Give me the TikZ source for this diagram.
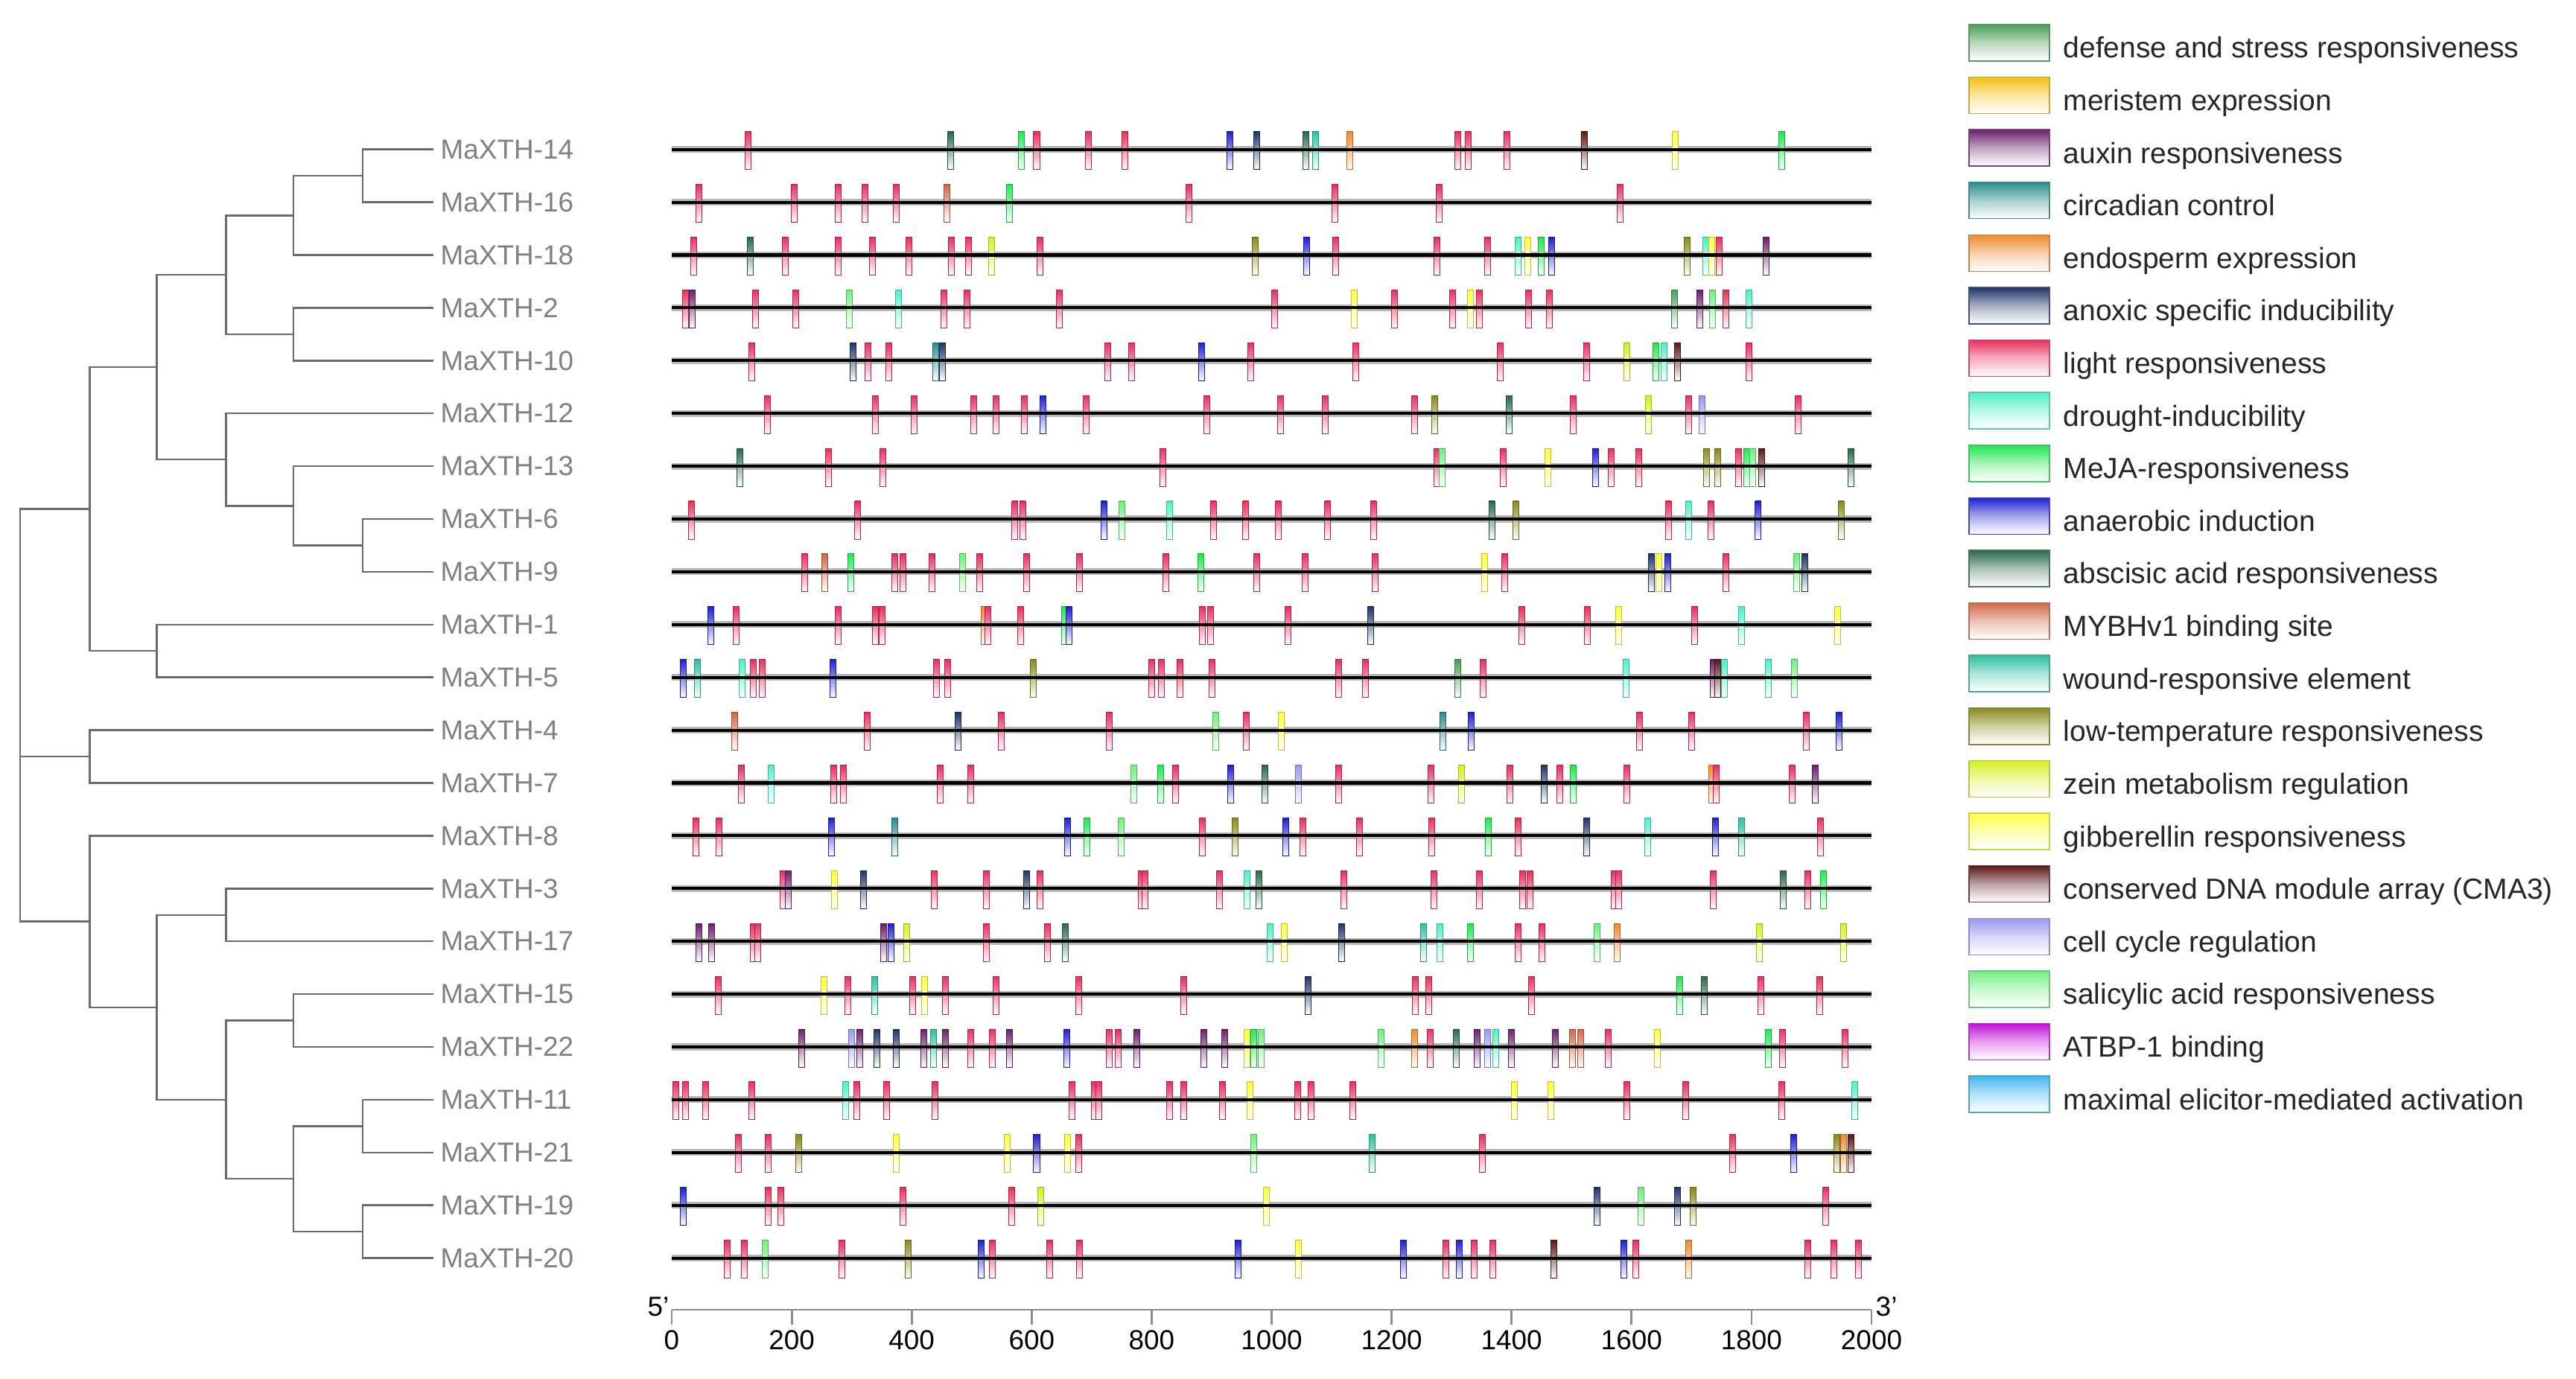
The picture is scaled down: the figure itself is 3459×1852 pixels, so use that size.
\documentclass[tikz,border=0pt]{standalone}
\usepackage{fontspec}
\setmainfont{Liberation Sans}
\definecolor{ccD}{HTML}{4E9E58}
\definecolor{ccM}{HTML}{F2C014}
\definecolor{ccX}{HTML}{6B1F6B}
\definecolor{ccC}{HTML}{2A8C8C}
\definecolor{ccE}{HTML}{F08A30}
\definecolor{ccN}{HTML}{203468}
\definecolor{ccL}{HTML}{E83060}
\definecolor{ccR}{HTML}{50F0C8}
\definecolor{ccJ}{HTML}{20E850}
\definecolor{ccB}{HTML}{2020D0}
\definecolor{ccA}{HTML}{2A6A4A}
\definecolor{ccY}{HTML}{D06848}
\definecolor{ccW}{HTML}{30C0A0}
\definecolor{ccT}{HTML}{8A8A1A}
\definecolor{ccZ}{HTML}{D8F020}
\definecolor{ccG}{HTML}{FFFF40}
\definecolor{ccK}{HTML}{5A1818}
\definecolor{ccV}{HTML}{9898F0}
\definecolor{ccS}{HTML}{70F080}
\definecolor{ccP}{HTML}{C010D8}
\definecolor{ccQ}{HTML}{40B8F0}
\tikzset{
 treeline/.style={draw=black!58, line width=0.7pt},
 leaflabel/.style={anchor=west, inner sep=0pt, text=black!50, font=\fontsize{10.5}{12}\selectfont},
 legtext/.style={anchor=base west, inner sep=0pt, text=black!85, font=\fontsize{11.1}{13}\selectfont},
 elbox/.style={top color=cc#1, bottom color=white, middle color=cc#1!50, draw=cc#1!75!black, line width=0.25pt},
 legbox/.style={top color=cc#1, bottom color=white, middle color=cc#1!40, draw=cc#1!60!gray, line width=0.4pt},
 haloline/.style={draw=black!28, line width=2.6pt},
 geneline/.style={draw=black, line width=1.15pt},
 axisline/.style={draw=black!45, line width=0.8pt},
 ticklabel/.style={anchor=north, inner sep=0pt, font=\fontsize{10.5}{12}\selectfont},
 primelabel/.style={inner sep=0pt, font=\fontsize{10.5}{12}\selectfont},
}
\newcommand\generow[3]{% #1 name, #2 y, #3 element list
  \coordinate (#1s) at (902,#2);
  \coordinate (#1e) at (2513,#2);
  \draw[haloline] (#1s) -- (#1e);
  \foreach \zx/\ety in {#3}{
    \pgfmathsetmacro\ex{895+\zx*1.0396}
    \path[elbox=\ety] (\ex-4,#2-24) rectangle (\ex+4,#2+27);
  }
  \draw[geneline] (#1s) -- (#1e);
}
\begin{document}
\begin{tikzpicture}[x=0.01cm, y=-0.01cm]
\useasboundingbox (0,0) rectangle (3459,1852);
\fill[white] (0,0) rectangle (3459,1852);

% ---------- tree ----------
\foreach \nm/\yy in {14/200.7,16/271.6,18/342.5,2/413.4,10/484.3,12/555.2,13/626.1,6/697.0,9/767.9,1/838.8,5/909.7,4/980.6,7/1051.5,8/1122.4,3/1193.3,17/1264.2,15/1335.1,22/1406.0,11/1476.9,21/1547.8,19/1618.7,20/1689.6}{
  \coordinate (l\nm) at (581.5,\yy);
  \node[leaflabel] (t\nm) at (591,\yy) {MaXTH-\nm};
}
\coordinate (r) at (27,960);
\coordinate (a) at (120.5,683.7);
\coordinate (a1) at (210.7,493.2);
\coordinate (a11) at (303.7,369.1);
\coordinate (a111) at (394,289.3);
\coordinate (a1111) at (487,236.15);
\coordinate (a112) at (394,448.85);
\coordinate (a12) at (303.7,617.2);
\coordinate (a122) at (394,679.3);
\coordinate (a1222) at (487,732.45);
\coordinate (a2) at (210.7,874.25);
\coordinate (m) at (120.5,1016.05);
\coordinate (b) at (120.5,1237.6);
\coordinate (b1) at (210.7,1352.8);
\coordinate (b11) at (303.7,1228.75);
\coordinate (b12) at (303.7,1476.9);
\coordinate (b121) at (394,1370.55);
\coordinate (b122) at (394,1583.25);
\coordinate (b1221) at (487,1512.35);
\coordinate (b1222) at (487,1654.15);
\draw[treeline] (r) |- (a) (r) |- (m) (r) |- (b);
\draw[treeline] (a) |- (a1) (a) |- (a2);
\draw[treeline] (a1) |- (a11) (a1) |- (a12);
\draw[treeline] (a11) |- (a111) (a11) |- (a112);
\draw[treeline] (a111) |- (a1111) (a111) |- (l18);
\draw[treeline] (a1111) |- (l14) (a1111) |- (l16);
\draw[treeline] (a112) |- (l2) (a112) |- (l10);
\draw[treeline] (a12) |- (l12) (a12) |- (a122);
\draw[treeline] (a122) |- (l13) (a122) |- (a1222);
\draw[treeline] (a1222) |- (l6) (a1222) |- (l9);
\draw[treeline] (a2) |- (l1) (a2) |- (l5);
\draw[treeline] (m) |- (l4) (m) |- (l7);
\draw[treeline] (b) |- (l8) (b) |- (b1);
\draw[treeline] (b1) |- (b11) (b1) |- (b12);
\draw[treeline] (b11) |- (l3) (b11) |- (l17);
\draw[treeline] (b12) |- (b121) (b12) |- (b122);
\draw[treeline] (b121) |- (l15) (b121) |- (l22);
\draw[treeline] (b122) |- (b1221) (b122) |- (b1222);
\draw[treeline] (b1221) |- (l11) (b1221) |- (l21);
\draw[treeline] (b1222) |- (l19) (b1222) |- (l20);

% ---------- gene rows ----------
\generow{g14}{200.7}{105/L,367/A,458/J,478/L,545/L,592/L,728/B,762/N,826/A,838/W,882/E,1022/L,1035/L,1085/L,1185/K,1303/G,1440/J}
\generow{g16}{271.6}{42/L,165/L,222/L,256/L,297/L,362/Y,443/J,675/L,863/L,998/L,1232/L}
\generow{g18}{342.5}{35/L,108/A,153/L,222/L,266/L,313/L,368/L,390/L,420/Z,482/L,760/T,827/B,864/L,995/L,1060/L,1100/R,1112/G,1130/J,1143/B,1318/T,1342/R,1350/G,1360/L,1420/X}
\generow{g2}{413.4}{24/L,33/X,115/L,167/L,236/S,300/R,358/L,388/L,507/L,785/L,888/G,940/L,1015/L,1038/G,1050/L,1113/L,1140/L,1302/D,1335/X,1351/S,1368/L,1398/R}
\generow{g10}{484.3}{110/L,241/N,260/L,287/L,348/C,356/N,570/L,601/L,691/B,755/L,890/L,1077/L,1188/L,1240/Z,1278/J,1288/R,1306/K,1398/L}
\generow{g12}{555.2}{130/L,270/L,320/L,397/L,426/L,462/L,486/B,542/L,698/L,793/L,851/L,966/L,992/T,1088/A,1171/L,1268/Z,1320/L,1337/V,1462/L}
\generow{g13}{626.1}{95/A,209/L,279/L,641/L,995/L,1002/S,1081/L,1138/G,1200/B,1220/L,1256/L,1343/T,1358/T,1385/L,1395/J,1403/S,1414/K,1530/A}
\generow{g6}{697.0}{32/L,247/L,450/L,460/L,565/B,588/S,650/R,706/L,748/L,790/L,854/L,913/L,1066/A,1097/T,1294/L,1320/R,1349/L,1410/B,1517/T}
\generow{g9}{767.9}{178/L,204/Y,238/J,295/L,305/L,343/L,382/S,404/L,465/L,533/L,645/L,690/J,762/L,825/L,915/L,1057/G,1083/L,1272/N,1282/G,1293/B,1368/L,1460/S,1470/N}
\generow{g1}{838.8}{57/B,90/L,222/L,270/L,278/L,410/E,415/L,457/L,514/J,520/B,692/L,703/L,803/L,909/N,1105/L,1189/L,1230/G,1328/L,1388/R,1513/G}
\generow{g5}{909.7}{22/B,40/W,98/R,112/L,124/L,215/B,349/L,363/L,474/T,627/L,639/L,663/L,705/L,868/L,903/L,1022/D,1055/L,1239/R,1352/X,1358/K,1366/R,1423/R,1457/S}
\generow{g4}{980.6}{88/Y,259/L,377/N,432/L,572/L,709/S,749/L,794/G,1003/C,1039/B,1257/L,1324/L,1472/L,1514/B}
\generow{g7}{1051.5}{97/L,135/R,216/L,228/L,353/L,393/L,604/S,638/J,657/L,729/B,773/A,816/V,868/L,987/L,1027/Z,1089/L,1134/N,1154/L,1171/J,1240/L,1350/E,1356/L,1454/L,1484/X}
\generow{g8}{1122.4}{38/L,68/L,213/B,295/C,518/B,543/J,587/S,692/L,734/T,800/B,822/L,895/L,988/L,1061/J,1100/L,1188/N,1267/R,1355/B,1388/W,1490/L}
\generow{g3}{1193.3}{150/L,157/X,217/G,254/N,346/L,413/L,465/N,482/L,613/L,618/L,714/L,750/R,765/A,875/L,991/L,1050/L,1106/L,1115/L,1224/L,1230/L,1352/L,1442/A,1474/L,1494/J}
\generow{g17}{1264.2}{42/X,58/X,112/L,118/L,280/X,290/B,310/Z,413/L,492/L,515/A,780/R,798/G,872/N,978/W,999/R,1038/J,1100/L,1131/L,1202/S,1228/E,1412/Z,1520/Z}
\generow{g15}{1335.1}{67/L,203/G,234/L,269/W,318/L,333/G,360/L,426/L,532/L,668/L,829/N,967/L,984/L,1117/L,1309/J,1340/A,1413/L,1489/L}
\generow{g22}{1406.0}{175/X,239/V,250/X,272/N,297/N,332/X,345/W,360/X,393/L,421/L,443/X,517/B,572/L,583/L,607/X,694/X,721/X,750/G,758/J,768/S,923/S,966/E,986/L,1020/A,1047/X,1060/V,1071/R,1091/X,1148/X,1170/Y,1181/Y,1216/L,1280/G,1423/J,1441/L,1522/L}
\generow{g11}{1476.9}{12/L,24/L,50/L,110/L,231/R,246/L,284/L,347/L,524/L,553/L,558/L,650/L,668/L,718/L,754/G,815/L,832/L,886/L,1095/G,1142/G,1240/L,1316/L,1440/L,1535/R}
\generow{g21}{1547.8}{93/L,131/L,171/T,297/G,440/G,478/B,518/G,532/L,758/S,911/W,1054/L,1377/L,1456/B,1512/T,1520/E,1530/K}
\generow{g19}{1618.7}{22/B,131/L,148/L,305/L,446/L,483/Z,775/G,1202/N,1259/S,1306/N,1326/T,1497/L}
\generow{g20}{1689.6}{78/L,100/L,127/S,226/L,312/T,406/B,421/L,495/L,533/L,738/B,816/G,952/B,1007/L,1024/B,1043/L,1067/L,1146/K,1236/B,1252/L,1320/E,1474/L,1508/L,1539/L}

% ---------- axis ----------
\coordinate (ax0) at (902,1759);
\coordinate (ax1) at (2513,1759);
\draw[axisline] (ax0) -- (ax1);
\foreach \bp in {0,200,...,2000}{
  \pgfmathsetmacro\tx{902+\bp*0.8055}
  \coordinate (tkA\bp) at (\tx,1759);
  \coordinate (tkB\bp) at (\tx,1779);
  \draw[axisline] (tkA\bp) -- (tkB\bp);
  \node[ticklabel] (tk\bp) at (\tx,1786) {\bp};
}
\node[primelabel, anchor=base east] (five) at (899,1767) {5'};
\node[primelabel, anchor=base west] (three) at (2518,1767) {3'};

% ---------- legend ----------
\foreach \k/\ety/\lab in {1/D/defense and stress responsiveness,2/M/meristem expression,3/X/auxin responsiveness,4/C/circadian control,5/E/endosperm expression,6/N/anoxic specific inducibility,7/L/light responsiveness,8/R/drought-inducibility,9/J/MeJA-responsiveness,10/B/anaerobic induction,11/A/abscisic acid responsiveness,12/Y/MYBHv1 binding site,13/W/wound-responsive element,14/T/low-temperature responsiveness,15/Z/zein metabolism regulation,16/G/gibberellin responsiveness,17/K/conserved DNA module array (CMA3),18/V/cell cycle regulation,19/S/salicylic acid responsiveness,20/P/ATBP-1 binding,21/Q/maximal elicitor-mediated activation}{
  \pgfmathsetmacro\tp{33+70.6*(\k-1)}
  \path[legbox=\ety] (2644,\tp) rectangle (2752,\tp+49);
  \node[legtext] (leg\k) at (2770,\tp+45) {\lab};
}
\end{tikzpicture}
\end{document}
